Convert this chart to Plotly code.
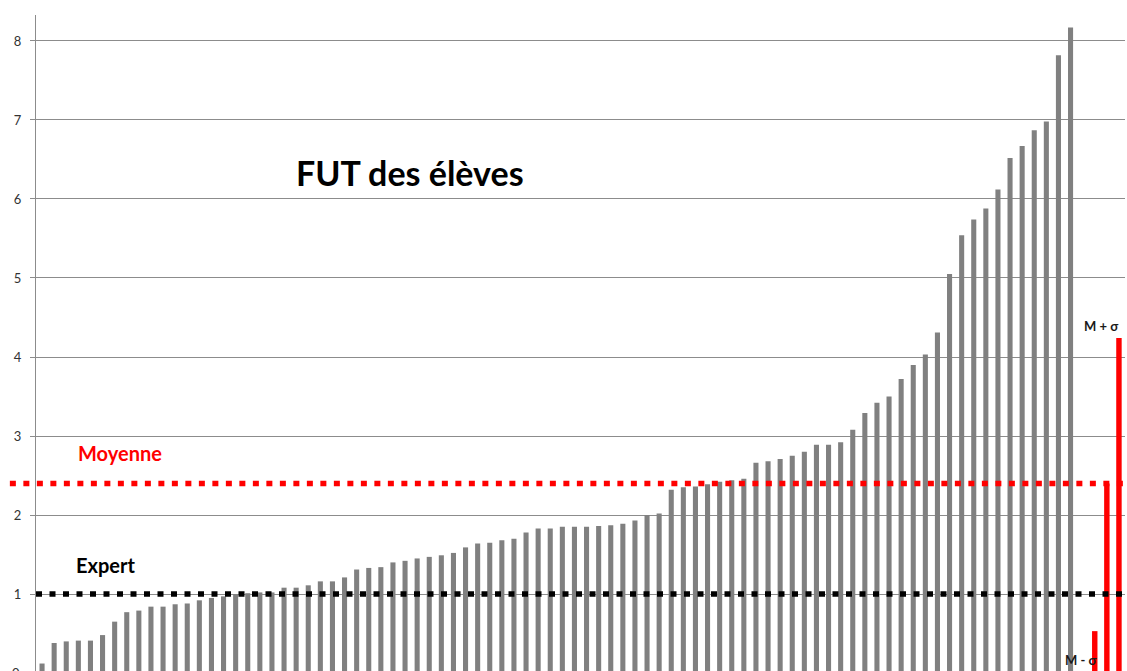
import plotly.graph_objects as go

# FUT score per student, sorted ascending
fut = [
    0.12, 0.38, 0.40, 0.41, 0.41, 0.48, 0.65, 0.77, 0.79, 0.84,
    0.84, 0.87, 0.88, 0.92, 0.95, 0.97, 1.00, 1.01, 1.02, 1.02,
    1.08, 1.08, 1.11, 1.16, 1.16, 1.21, 1.31, 1.33, 1.34, 1.40,
    1.42, 1.45, 1.47, 1.49, 1.52, 1.59, 1.64, 1.65, 1.68, 1.70,
    1.78, 1.83, 1.83, 1.85, 1.85, 1.85, 1.86, 1.87, 1.89, 1.93,
    2.00, 2.02, 2.32, 2.35, 2.36, 2.39, 2.42, 2.44, 2.46, 2.66,
    2.68, 2.71, 2.75, 2.80, 2.89, 2.89, 2.92, 3.08, 3.29, 3.42,
    3.50, 3.72, 3.90, 4.03, 4.31, 5.05, 5.54, 5.74, 5.88, 6.12,
    6.52, 6.67, 6.87, 6.98, 7.82, 8.17,
]

# summary bars: mean minus sigma, mean, mean plus sigma
stat_labels = ["M - σ", "Moyenne", "M + σ"]
stat_values = [0.53, 2.40, 4.24]

moyenne = 2.40
expert = 1.0

y_ticks = [1, 2, 3, 4, 5, 6, 7, 8]

n = len(fut)
x_students = list(range(n))
x_stats = [n + 1, n + 2, n + 3]

FONT = "Lato, 'Open Sans', sans-serif"

fig = go.Figure()
fig.add_bar(x=x_students, y=fut, marker=dict(color="#808080", line=dict(width=0)),
            width=0.42, showlegend=False, hoverinfo="y")
fig.add_bar(x=x_stats, y=stat_values, marker=dict(color="#ff0000", line=dict(width=0)),
            width=0.45, showlegend=False, hovertext=stat_labels, hoverinfo="text+y")

# reference lines
fig.add_shape(type="line", xref="paper", yref="y", x0=-0.024, x1=1.0,
              y0=moyenne, y1=moyenne,
              line=dict(color="#ff0000", width=5.5, dash="6px,7.5px"), layer="above")
fig.add_shape(type="line", xref="paper", yref="y", x0=0.0, x1=1.0,
              y0=expert, y1=expert,
              line=dict(color="#000000", width=5.5, dash="6px,7.5px"), layer="above")

# text labels
fig.add_annotation(x=30.4, y=6.33, xref="x", yref="y", text="<b>FUT des élèves</b>",
                   showarrow=False, font=dict(family=FONT, size=34, color="#000000"))
fig.add_annotation(x=6.45, y=2.78, xref="x", yref="y", text="<b>Moyenne</b>",
                   showarrow=False, font=dict(family=FONT, size=20, color="#ff0000"))
fig.add_annotation(x=5.25, y=1.37, xref="x", yref="y", text="<b>Expert</b>",
                   showarrow=False, font=dict(family=FONT, size=20, color="#000000"))
fig.add_annotation(x=0.9963, y=4.39, xref="paper", yref="y", xanchor="right",
                   text="<b>M + σ</b>", showarrow=False,
                   font=dict(family=FONT, size=13, color="#1a1a1a"))
fig.add_annotation(x=(1099 - 36) / 1089, y=0.165, xref="paper", yref="y", xanchor="right",
                   text="<b>M - σ</b>", showarrow=False,
                   font=dict(family=FONT, size=13, color="#1a1a1a"))
# zero tick label sits just below the visible axis range
fig.add_annotation(x=-0.0129, y=-0.003, xref="paper", yref="paper", text="0",
                   xanchor="right", yanchor="middle", showarrow=False,
                   font=dict(family=FONT, size=13, color="#333333"))

fig.update_layout(
    width=1127, height=671,
    margin=dict(l=36, r=2, t=15, b=0),
    paper_bgcolor="white", plot_bgcolor="white",
    barmode="overlay",
    showlegend=False,
    font=dict(family=FONT, size=13, color="#333333"),
)
fig.update_xaxes(range=[-0.5, n + 3.5], showticklabels=False, showgrid=False,
                 zeroline=False, showline=False, ticks="")
fig.update_yaxes(range=[0.0253, 8.329], tickvals=y_ticks, showgrid=True,
                 gridcolor="#8c8c8c", gridwidth=1, zeroline=False,
                 showline=True, linecolor="#8c8c8c", linewidth=1,
                 ticks="outside", ticklen=5, tickcolor="#8c8c8c",
                 ticklabelstandoff=6,
                 tickfont=dict(family=FONT, size=13, color="#333333"))

fig.write_html("out.html")
